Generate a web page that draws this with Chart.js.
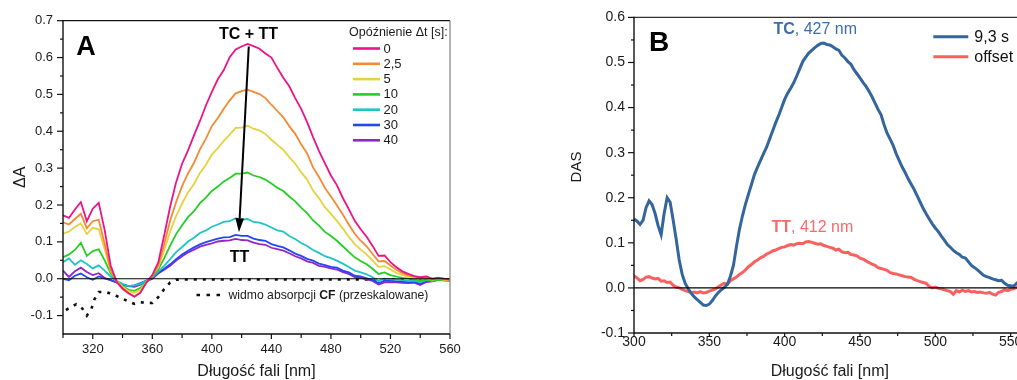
<!DOCTYPE html>
<html>
<head>
<meta charset="utf-8">
<script src="https://cdn.jsdelivr.net/npm/chart.js@4.4.1/dist/chart.umd.min.js"></script>
<style>
  html, body { margin: 0; padding: 0; width: 1017px; height: 380px; overflow: hidden; background: #fff; }
  .panel { position: absolute; top: 0; }
  #wrapA { left: 0; width: 470px; height: 380px; }
  #wrapB { left: 560px; width: 500px; height: 380px; }
</style>
</head>
<body>
<div id="wrapA" class="panel"><canvas id="panelA" width="470" height="380"></canvas></div>
<div id="wrapB" class="panel"><canvas id="panelB" width="500" height="380"></canvas></div>
<script>
// ---------- Panel A: transient absorption spectra at several delays ----------
const wavelengthsA = [300,304,308,312,316,320,324,328,332,336,340,344,348,352,356,360,364,368,372,376,
  380,384,388,392,396,400,404,408,412,416,420,424,428,432,436,440,444,448,452,456,
  460,464,468,472,476,480,484,488,492,496,500,504,508,512,516,520,524,528,532,536,
  540,544,548,552,556,560];

const delay0 = [0.172,0.165,0.188,0.208,0.156,0.190,0.206,0.132,0.036,-0.008,
  -0.026,-0.039,-0.049,-0.038,-0.010,0.010,0.044,0.118,0.196,0.262,
  0.312,0.348,0.389,0.428,0.470,0.507,0.541,0.566,0.601,0.622,
  0.630,0.637,0.631,0.624,0.611,0.600,0.572,0.545,0.522,0.490,
  0.461,0.425,0.384,0.346,0.313,0.280,0.254,0.219,0.189,0.157,
  0.134,0.114,0.089,0.062,0.063,0.045,0.031,0.020,0.013,0.007,
  0.004,0.006,0.000,0.003,0.000,-0.002];

const delay2_5 = [0.153,0.147,0.162,0.176,0.137,0.156,0.160,0.094,0.024,-0.008,
  -0.028,-0.040,-0.048,-0.037,-0.011,0.008,0.036,0.094,0.158,0.208,
  0.251,0.286,0.314,0.351,0.380,0.414,0.436,0.461,0.484,0.503,
  0.509,0.513,0.507,0.501,0.490,0.472,0.455,0.438,0.414,0.393,
  0.365,0.340,0.302,0.276,0.246,0.223,0.199,0.174,0.147,0.122,
  0.103,0.088,0.067,0.047,0.048,0.036,0.024,0.015,0.009,0.006,
  0.002,0.004,-0.002,0.001,-0.002,-0.004];

const delay5 = [0.122,0.128,0.140,0.150,0.121,0.138,0.134,0.080,0.021,-0.005,
  -0.022,-0.034,-0.038,-0.030,-0.009,0.010,0.031,0.078,0.128,0.170,
  0.204,0.234,0.257,0.287,0.309,0.337,0.354,0.374,0.391,0.409,
  0.410,0.415,0.407,0.402,0.393,0.377,0.363,0.350,0.330,0.312,
  0.289,0.269,0.239,0.218,0.194,0.176,0.157,0.136,0.114,0.094,
  0.079,0.066,0.049,0.032,0.034,0.025,0.016,0.010,0.006,0.003,
  0.000,0.002,-0.003,0.000,-0.003,-0.004];

const delay10 = [0.058,0.066,0.078,0.098,0.062,0.075,0.080,0.050,0.015,-0.005,
  -0.020,-0.030,-0.033,-0.025,-0.008,0.006,0.025,0.056,0.090,0.121,
  0.145,0.167,0.183,0.205,0.220,0.238,0.250,0.264,0.273,0.285,
  0.285,0.288,0.280,0.276,0.269,0.258,0.247,0.238,0.223,0.210,
  0.193,0.178,0.158,0.144,0.127,0.116,0.103,0.088,0.073,0.058,
  0.048,0.039,0.027,0.013,0.017,0.010,0.006,0.002,0.000,-0.002,
  -0.005,-0.002,-0.006,-0.003,-0.005,-0.006];

const delay20 = [0.045,0.055,0.038,0.050,0.040,0.028,0.036,0.022,0.006,-0.006,
  -0.014,-0.020,-0.018,-0.014,-0.006,0.004,0.019,0.035,0.053,0.072,
  0.086,0.101,0.111,0.124,0.131,0.141,0.147,0.154,0.156,0.164,
  0.160,0.162,0.154,0.152,0.147,0.139,0.131,0.128,0.116,0.108,
  0.097,0.089,0.078,0.070,0.061,0.056,0.049,0.041,0.032,0.022,
  0.017,0.012,0.004,-0.006,0.000,-0.002,-0.003,-0.004,-0.006,-0.005,
  -0.009,-0.004,-0.006,-0.003,-0.004,-0.006];

const delay30 = [0.000,-0.004,0.008,0.014,0.004,-0.003,0.006,0.001,-0.004,-0.010,
  -0.016,-0.020,-0.018,-0.012,-0.005,0.002,0.017,0.027,0.039,0.053,
  0.066,0.076,0.085,0.093,0.099,0.104,0.109,0.112,0.113,0.119,
  0.116,0.116,0.109,0.105,0.103,0.094,0.089,0.085,0.077,0.068,
  0.062,0.054,0.049,0.041,0.037,0.032,0.030,0.022,0.017,0.008,
  0.006,0.001,-0.004,-0.012,-0.006,-0.006,-0.007,-0.008,-0.009,-0.008,
  -0.014,-0.007,-0.006,-0.002,-0.003,-0.004];

const delay40 = [0.022,0.005,0.020,0.030,0.018,0.010,0.015,0.002,-0.004,-0.010,
  -0.016,-0.020,-0.022,-0.016,-0.008,0.000,0.014,0.024,0.035,0.049,
  0.061,0.071,0.079,0.087,0.092,0.096,0.101,0.103,0.104,0.108,
  0.105,0.104,0.098,0.094,0.092,0.084,0.080,0.076,0.069,0.061,
  0.055,0.047,0.043,0.035,0.032,0.028,0.025,0.018,0.013,0.004,
  0.002,-0.002,-0.006,-0.016,-0.010,-0.009,-0.010,-0.011,-0.012,-0.011,
  -0.017,-0.009,-0.007,-0.003,-0.002,-0.005];

const delayLabels = ['0', '2,5', '5', '10', '20', '30', '40'];
const delayColors = ['#ec1387', '#f58a32', '#e4d33c', '#22cf22', '#20c3c7', '#2446f5', '#9426c8'];

// rescaled CF absorption spectrum (dotted)
const cfWavelengths = [302,306,309,313,316,319,321,324,328,332,336,340,344,348,352,356,360,364,368,372,376,380,420,470,520,560];
const cfScaled = [-0.085,-0.075,-0.069,-0.081,-0.100,-0.083,-0.057,-0.036,-0.036,-0.040,-0.047,-0.054,-0.062,-0.068,-0.064,-0.065,-0.066,-0.050,-0.028,-0.010,-0.003,-0.002,-0.002,-0.002,-0.002,-0.002];

const yTicksA = [-0.1, 0.0, 0.1, 0.2, 0.3, 0.4, 0.5, 0.6, 0.7];
const xTicksA = [320, 360, 400, 440, 480, 520, 560];

// ---------- Panel B: decay-associated spectra ----------
const wavelengthsB = [300,302,304,306,308,310,312,314,316,318,320,322,324,326,328,330,332,334,336,338,
  340,342,344,346,348,350,352,354,356,358,360,362,364,366,368,370,372,374,376,378,
  380,382,384,386,388,390,392,394,396,398,400,402,404,406,408,410,412,414,416,418,
  420,422,424,426,428,430,432,434,436,438,440,442,444,446,448,450,452,454,456,458,
  460,462,464,466,468,470,472,474,476,478,480,482,484,486,488,490,492,494,496,498,
  500,502,504,506,508,510,512,514,516,518,520,522,524,526,528,530,532,534,536,538,
  540,542,544,546,548,550,552,554,556];

const das93 = [0.153,0.148,0.141,0.150,0.178,0.193,0.185,0.165,0.138,0.118,
  0.165,0.200,0.190,0.150,0.108,0.062,0.030,0.010,-0.002,-0.012,
  -0.020,-0.026,-0.032,-0.038,-0.039,-0.036,-0.028,-0.018,-0.010,-0.004,
  0.001,0.008,0.026,0.050,0.092,0.130,0.160,0.186,0.208,0.230,
  0.252,0.268,0.283,0.298,0.312,0.330,0.348,0.366,0.382,0.400,
  0.418,0.432,0.443,0.455,0.470,0.486,0.502,0.512,0.521,0.527,
  0.533,0.538,0.542,0.543,0.540,0.539,0.535,0.530,0.527,0.516,
  0.510,0.502,0.496,0.484,0.475,0.466,0.456,0.447,0.436,0.424,
  0.410,0.396,0.384,0.362,0.343,0.330,0.316,0.298,0.283,0.268,
  0.256,0.242,0.230,0.218,0.204,0.190,0.176,0.164,0.153,0.142,
  0.133,0.125,0.115,0.106,0.096,0.090,0.083,0.078,0.074,0.068,
  0.066,0.058,0.050,0.045,0.040,0.034,0.028,0.025,0.023,0.020,
  0.018,0.016,0.017,0.010,0.006,0.005,0.004,0.010,0.016];

const dasOffset = [0.027,0.022,0.016,0.019,0.024,0.025,0.022,0.020,0.021,0.015,
  0.016,0.012,0.013,0.006,0.002,0.000,-0.003,-0.006,-0.008,-0.010,
  -0.009,-0.011,-0.008,-0.011,-0.010,-0.007,-0.005,-0.002,0.002,0.007,
  0.010,0.008,0.016,0.020,0.024,0.030,0.034,0.040,0.047,0.052,
  0.058,0.062,0.067,0.070,0.075,0.078,0.082,0.084,0.087,0.090,
  0.091,0.094,0.096,0.095,0.098,0.099,0.098,0.102,0.103,0.101,
  0.099,0.097,0.098,0.094,0.092,0.090,0.088,0.084,0.086,0.080,
  0.078,0.079,0.074,0.073,0.071,0.066,0.064,0.060,0.056,0.053,
  0.050,0.045,0.043,0.041,0.039,0.034,0.032,0.031,0.029,0.027,
  0.025,0.024,0.023,0.019,0.016,0.014,0.012,0.010,0.003,0.000,
  0.002,-0.001,-0.002,-0.004,-0.006,-0.008,-0.014,-0.006,-0.009,-0.005,
  -0.008,-0.006,-0.009,-0.008,-0.010,-0.009,-0.011,-0.012,-0.010,-0.014,
  -0.016,-0.010,-0.008,-0.004,-0.006,-0.003,-0.002,0.001,0.002];

const dasLabels = ['9,3 s', 'offset'];
const dasColors = ['#34659c', '#fa6060'];

const yTicksB = [-0.1, 0.0, 0.1, 0.2, 0.3, 0.4, 0.5, 0.6];
const xTicksB = [300, 350, 400, 450, 500, 550];

// ---------- shared helpers ----------
const FONT = '"Liberation Sans", Arial, Helvetica, sans-serif';
Chart.defaults.font.family = FONT;
Chart.defaults.color = '#1a1a1a';

const toPoints = (xs, ys) => xs.map((x, i) => ({ x, y: ys[i] }));

function seg(ctx, x1, y1, x2, y2, color, width) {
  ctx.beginPath();
  ctx.strokeStyle = color;
  ctx.lineWidth = width;
  ctx.moveTo(x1, y1);
  ctx.lineTo(x2, y2);
  ctx.stroke();
}

// draws a run of text pieces [text, bold] starting at x
function richText(ctx, pieces, x, y, size, color) {
  ctx.fillStyle = color;
  ctx.textBaseline = 'middle';
  ctx.textAlign = 'left';
  let cx = x;
  for (const [t, bold] of pieces) {
    ctx.font = (bold ? 'bold ' : '') + size + 'px ' + FONT;
    ctx.fillText(t, cx, y);
    cx += ctx.measureText(t).width;
  }
}

function midpoints(arr) {
  const out = [];
  for (let i = 0; i < arr.length - 1; i++) out.push((arr[i] + arr[i + 1]) / 2);
  return out;
}

function axisTicks(ctx, chart, xMajor, xMinor, yMajor, yMinor, opt) {
  const { chartArea: a, scales: { x, y } } = chart;
  for (const v of yMajor) { const py = y.getPixelForValue(v); seg(ctx, a.left - opt.yMajorLen, py, a.left, py, '#111', 1.2); }
  for (const v of yMinor) { const py = y.getPixelForValue(v); seg(ctx, a.left - opt.yMinorLen, py, a.left, py, '#111', 1.2); }
  for (const v of xMajor) { const px = x.getPixelForValue(v); seg(ctx, px, a.bottom, px, a.bottom + opt.xMajorLen, '#111', 1.2); }
  for (const v of xMinor) { const px = x.getPixelForValue(v); seg(ctx, px, a.bottom, px, a.bottom + opt.xMinorLen, '#111', 1.2); }
}

function baseScales(cfg) {
  return {
    x: {
      type: 'linear', min: cfg.xMin, max: cfg.xMax,
      afterBuildTicks: s => { s.ticks = cfg.xTicks.map(v => ({ value: v })); },
      afterFit: s => { s.height = cfg.xHeight; },
      grid: { display: false, drawTicks: false },
      border: { display: false },
      ticks: { font: { size: cfg.tickSize }, padding: cfg.xPad, maxRotation: 0, autoSkip: false, color: '#1a1a1a' },
      title: { display: true, text: 'Długość fali [nm]', font: { size: 16, lineHeight: 1 }, padding: 0, color: '#1a1a1a' }
    },
    y: {
      type: 'linear', min: cfg.yMin, max: cfg.yMax,
      afterBuildTicks: s => { s.ticks = cfg.yTicks.map(v => ({ value: v })); },
      afterFit: s => { s.width = cfg.yWidth; },
      grid: { display: false, drawTicks: false },
      border: { display: false },
      ticks: { font: { size: cfg.tickSize }, padding: cfg.yPad, color: '#1a1a1a', callback: v => Number(v).toFixed(1) },
      title: { display: cfg.yTitleBuiltIn, text: cfg.yTitle, font: { size: cfg.yTitleSize, lineHeight: 1 }, padding: 0, color: '#1a1a1a' }
    }
  };
}

// ---------- Panel A ----------
const seriesA = [delay0, delay2_5, delay5, delay10, delay20, delay30, delay40];
const datasetsA = seriesA.map((vals, i) => ({
  label: delayLabels[i],
  data: toPoints(wavelengthsA, vals),
  borderColor: delayColors[i],
  borderWidth: 1.8,
  pointRadius: 0,
  tension: 0,
  fill: false
}));
datasetsA.push({
  label: 'CF',
  data: toPoints(cfWavelengths, cfScaled),
  borderColor: '#111',
  borderWidth: 2.6,
  borderDash: [3, 6],
  pointRadius: 0,
  tension: 0,
  fill: false
});

const decorA = {
  id: 'decorA',
  afterDatasetsDraw(chart) {
    const { ctx, chartArea: a, scales: { x, y } } = chart;
    ctx.save();
    // zero line
    const y0 = y.getPixelForValue(0);
    seg(ctx, a.left, y0, a.right, y0, '#000', 1.1);
    // frame
    seg(ctx, a.left, a.top, a.right, a.top, '#111', 1.3);
    seg(ctx, a.right, a.top, a.right, a.bottom, '#8a8a8a', 1.3);
    seg(ctx, a.left, a.top - 0.6, a.left, a.bottom + 0.6, '#111', 1.4);
    seg(ctx, a.left, a.bottom, a.right, a.bottom, '#111', 1.4);
    const xMinor = [];
    for (let v = 300; v <= 560; v += 20) if (!xTicksA.includes(v)) xMinor.push(v);
    axisTicks(ctx, chart, xTicksA, xMinor, yTicksA, midpoints(yTicksA),
      { yMajorLen: 6, yMinorLen: 3, xMajorLen: 5, xMinorLen: 4 });

    // panel letter
    ctx.fillStyle = '#000';
    ctx.font = 'bold 27px ' + FONT;
    ctx.textAlign = 'center';
    ctx.textBaseline = 'middle';
    ctx.fillText('A', 86, 48);

    // arrow from the TC+TT peak down to the TT band
    const ax1 = x.getPixelForValue(424.8), ay1 = y.getPixelForValue(0.630);
    const ax2 = x.getPixelForValue(418.2), ay2 = y.getPixelForValue(0.126);
    const ang = Math.atan2(ay2 - ay1, ax2 - ax1);
    const headLen = 14, headHalf = 4.3;
    const bx = ax2 - headLen * Math.cos(ang), by = ay2 - headLen * Math.sin(ang);
    seg(ctx, ax1, ay1, bx, by, '#000', 2);
    ctx.beginPath();
    ctx.fillStyle = '#000';
    ctx.moveTo(ax2, ay2);
    ctx.lineTo(bx + headHalf * Math.sin(ang), by - headHalf * Math.cos(ang));
    ctx.lineTo(bx - headHalf * Math.sin(ang), by + headHalf * Math.cos(ang));
    ctx.closePath();
    ctx.fill();

    ctx.font = 'bold 16px ' + FONT;
    ctx.textAlign = 'center';
    ctx.fillText('TC + TT', 248.5, 35);
    ctx.fillText('TT', 239.5, 258);

    // legend
    ctx.font = '12.5px ' + FONT;
    ctx.textAlign = 'left';
    ctx.fillStyle = '#1a1a1a';
    ctx.fillText('Opóźnienie \u0394t [s]:', 349, 33);
    ctx.font = '13px ' + FONT;
    delayLabels.forEach((lab, i) => {
      const ly = 48.5 + i * 15.3;
      seg(ctx, 353, ly, 380, ly, delayColors[i], 2.6);
      ctx.fillStyle = '#1a1a1a';
      ctx.fillText(lab, 383.5, ly + 0.5);
    });

    // CF spectrum note
    ctx.save();
    ctx.setLineDash([3.5, 6.5]);
    seg(ctx, 196.5, 295, 221, 295, '#111', 2.6);
    ctx.restore();
    richText(ctx, [['widmo absorpcji ', false], ['CF', true], [' (przeskalowane)', false]], 228.5, 296, 12.2, '#1a1a1a');
    ctx.restore();
  }
};

new Chart(document.getElementById('panelA'), {
  type: 'line',
  data: { datasets: datasetsA },
  options: {
    responsive: false,
    animation: false,
    devicePixelRatio: 1,
    layout: { padding: { left: 13, right: 20, top: 20.7, bottom: 0 } },
    plugins: { legend: { display: false }, tooltip: { enabled: false } },
    scales: baseScales({
      xMin: 300, xMax: 560, xTicks: xTicksA, xHeight: 46, xPad: 8,
      yMin: -0.15, yMax: 0.7, yTicks: yTicksA, yWidth: 50, yPad: 10,
      tickSize: 13, yTitle: '\u0394A', yTitleSize: 16, yTitleBuiltIn: true
    })
  },
  plugins: [decorA]
});

// ---------- Panel B ----------
const datasetsB = [das93, dasOffset].map((vals, i) => ({
  label: dasLabels[i],
  data: toPoints(wavelengthsB, vals),
  borderColor: dasColors[i],
  borderWidth: 3,
  pointRadius: 0,
  tension: 0,
  fill: false
}));

const decorB = {
  id: 'decorB',
  afterDatasetsDraw(chart) {
    const { ctx, chartArea: a, scales: { x, y } } = chart;
    ctx.save();
    const y0 = y.getPixelForValue(0);
    seg(ctx, a.left, y0, a.right, y0, '#000', 1.1);
    seg(ctx, a.left, a.top, a.right, a.top, '#333', 1.3);
    seg(ctx, a.left, a.top - 0.6, a.left, a.bottom + 0.6, '#111', 1.4);
    seg(ctx, a.left, a.bottom, a.right, a.bottom, '#111', 1.4);
    axisTicks(ctx, chart, xTicksB, midpoints(xTicksB).concat([575]), yTicksB, midpoints(yTicksB),
      { yMajorLen: 6, yMinorLen: 3, xMajorLen: 4, xMinorLen: 3 });

    // axis title, sitting a little above the middle of the axis
    ctx.save();
    ctx.translate(17, 167);
    ctx.rotate(-Math.PI / 2);
    ctx.font = '15px ' + FONT;
    ctx.fillStyle = '#1a1a1a';
    ctx.textAlign = 'center';
    ctx.textBaseline = 'middle';
    ctx.fillText('DAS', 0, 0);
    ctx.restore();

    ctx.fillStyle = '#000';
    ctx.font = 'bold 28px ' + FONT;
    ctx.textAlign = 'center';
    ctx.textBaseline = 'middle';
    ctx.fillText('B', 99, 43);

    richText(ctx, [['TC', true], [', 427 nm', false]], 213.5, 29.5, 16, '#3d6ea6');
    richText(ctx, [['TT', true], [', 412 nm', false]], 211.5, 227.5, 16, '#f86a6a');

    ctx.font = '16px ' + FONT;
    dasLabels.forEach((lab, i) => {
      const ly = 36.7 + i * 20;
      seg(ctx, 373.3, ly, 408.3, ly, dasColors[i], 3);
      ctx.fillStyle = '#111';
      ctx.textAlign = 'left';
      ctx.fillText(lab, 414.3, ly + 0.5);
    });
    ctx.restore();
  }
};

new Chart(document.getElementById('panelB'), {
  type: 'line',
  data: { datasets: datasetsB },
  options: {
    responsive: false,
    animation: false,
    devicePixelRatio: 1,
    layout: { padding: { left: 0, right: 34.3, top: 16.7, bottom: 0 } },
    plugins: { legend: { display: false }, tooltip: { enabled: false } },
    scales: baseScales({
      xMin: 300, xMax: 560, xTicks: xTicksB, xHeight: 47, xPad: 1,
      yMin: -0.1, yMax: 0.6, yTicks: yTicksB, yWidth: 74, yPad: 9,
      tickSize: 14, yTitle: 'DAS', yTitleSize: 15, yTitleBuiltIn: false
    })
  },
  plugins: [decorB]
});
</script>
</body>
</html>
